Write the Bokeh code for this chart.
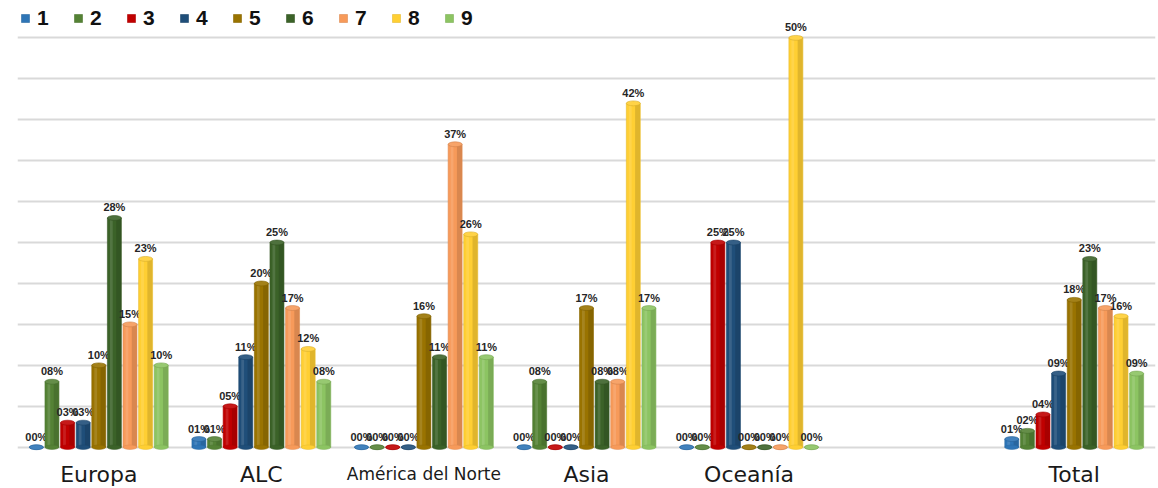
from bokeh.plotting import figure
from bokeh.models import (ColumnDataSource, FactorRange, Range1d, FixedTicker,
                          Legend, LegendItem)
from bokeh.transform import dodge
from bokeh.core.properties import value
from bokeh.embed import file_html
from bokeh.resources import INLINE

# ---- data ----
categories = ["Europa", "ALC", "América del Norte", "Asia", "Oceanía", " ", "Total"]
series_names = ["1", "2", "3", "4", "5", "6", "7", "8", "9"]
s1 = [0, 1, 0, 0, 0, None, 1]
s2 = [8, 1, 0, 8, 0, None, 2]
s3 = [3, 5, 0, 0, 25, None, 4]
s4 = [3, 11, 0, 0, 25, None, 9]
s5 = [10, 20, 16, 17, 0, None, 18]
s6 = [28, 25, 11, 8, 0, None, 23]
s7 = [15, 17, 37, 8, 0, None, 17]
s8 = [23, 12, 26, 42, 50, None, 16]
s9 = [10, 8, 11, 17, 0, None, 9]
series = [s1, s2, s3, s4, s5, s6, s7, s8, s9]
grid_ticks = [0, 5, 10, 15, 20, 25, 30, 35, 40, 45, 50]

colors = ["#2E75B6", "#548235", "#C00000", "#1F4E79", "#997300",
          "#3B6228", "#F79A5A", "#FFCF33", "#8CC462"]


def lighten(hexc, f):
    h = hexc.lstrip("#")
    r, g, b = (int(h[i:i + 2], 16) for i in (0, 2, 4))
    r = int(r + (255 - r) * f); g = int(g + (255 - g) * f); b = int(b + (255 - b) * f)
    return "#%02X%02X%02X" % (r, g, b)


def darken(hexc, f):
    h = hexc.lstrip("#")
    r, g, b = (int(int(h[i:i + 2], 16) * (1 - f)) for i in (0, 2, 4))
    return "#%02X%02X%02X" % (r, g, b)


p = figure(width=1158, height=488,
           x_range=FactorRange(factors=categories, range_padding=0),
           y_range=Range1d(-5.04, 54.56),
           min_border_left=17, min_border_right=3, min_border_top=0, min_border_bottom=0,
           toolbar_location=None, output_backend="svg")
p.axis.visible = False
p.outline_line_color = None
p.xgrid.grid_line_color = None
p.ygrid.ticker = FixedTicker(ticks=grid_ticks)
p.ygrid.grid_line_color = "#D9D9D9"
p.ygrid.grid_line_width = 2

pitch = 0.096
bw = 0.086
items = []
for i, (name, vals) in enumerate(zip(series_names, series)):
    xs = [c for c, v in zip(categories, vals) if v is not None]
    ys = [v for v in vals if v is not None]
    labels = ["%02d%%" % v for v in ys]
    src = ColumnDataSource(dict(x=xs, y=ys, label=labels,
                                ytop=[v for v in ys], ylab=[v + 0.55 for v in ys]))
    off = (i - 4) * pitch
    col = colors[i]
    r = p.vbar(x=dodge("x", off, range=p.x_range), top="y", bottom=0, width=bw,
               source=src, fill_color=col, line_color=darken(col, 0.1), line_width=0.6)
    # shading stripes for cylinder look
    p.vbar(x=dodge("x", off + bw * 0.3, range=p.x_range), top="y", bottom=0, width=bw * 0.35,
           source=src, fill_color="black", fill_alpha=0.12, line_color=None)
    p.vbar(x=dodge("x", off - bw * 0.22, range=p.x_range), top="y", bottom=0, width=bw * 0.2,
           source=src, fill_color="white", fill_alpha=0.12, line_color=None)
    # bottom and top ellipses
    p.ellipse(x=dodge("x", off, range=p.x_range), y=0, width=bw, height=0.55,
              source=src, fill_color=col, line_color=darken(col, 0.1), line_width=0.5)
    p.ellipse(x=dodge("x", off, range=p.x_range), y="ytop", width=bw, height=0.6,
              source=src, fill_color=lighten(col, 0.1), line_color=darken(col, 0.15), line_width=0.6)
    p.text(x=dodge("x", off, range=p.x_range), y="ylab", text="label", source=src,
           text_align="center", text_baseline="bottom",
           text_font=value("Liberation Sans"), text_font_style="bold",
           text_font_size="11px", text_color="#262626")
    items.append(LegendItem(label=name, renderers=[r]))

# category labels
cat_lab = [c for c in categories if c.strip()]
cat_src = ColumnDataSource(dict(x=cat_lab, y=[-3.3] * len(cat_lab), text=cat_lab,
                                size=["17px" if len(c) > 10 else "22px" for c in cat_lab]))
p.text(x="x", y="y", text="text", source=cat_src, text_align="center",
       text_baseline="middle", text_font=value("DejaVu Sans"), text_font_size="size",
       text_color="#1A1A1A")

legend = Legend(items=items, orientation="horizontal", location=(3, 458))
legend.glyph_width = 10
legend.glyph_height = 10
legend.label_standoff = 7
legend.spacing = 24
legend.label_width = 12
legend.padding = 0
legend.margin = 0
legend.border_line_color = None
legend.background_fill_alpha = 0
legend.label_text_font = "Liberation Sans"
legend.label_text_font_style = "bold"
legend.label_text_font_size = "21px"
legend.label_text_color = "#111111"
p.add_layout(legend)

open("out.html", "w").write(file_html(p, INLINE))
